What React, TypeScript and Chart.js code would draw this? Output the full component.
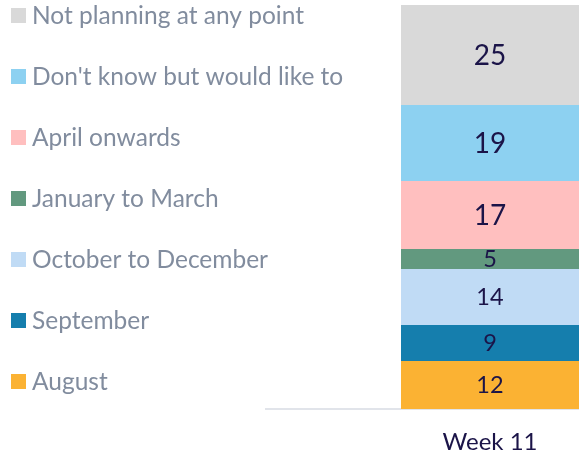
import React, { useEffect, useRef } from "react";
import { Chart, registerables } from "chart.js";

Chart.register(...registerables);

const categories = ["Week 11"];
const seriesNames = [
  "August",
  "September",
  "October to December",
  "January to March",
  "April onwards",
  "Don't know but would like to",
  "Not planning at any point",
];
const seriesValues = [12, 9, 14, 5, 17, 19, 25];
const seriesColors = [
  "#fbb233",
  "#157ead",
  "#c0dbf5",
  "#62997f",
  "#ffbfbf",
  "#8dd1f1",
  "#d9d9d9",
];
const yMax = 101;

const FONT = "Lato, 'Open Sans', sans-serif";
const LABEL_COLOR = "#1b1448";
const LEGEND_COLOR = "#818c9e";

const sideLegend = {
  id: "sideLegend",
  afterDraw(chart: any) {
    const ctx = chart.ctx;
    ctx.save();
    ctx.font = `24.5px ${FONT}`;
    ctx.textBaseline = "alphabetic";
    ctx.textAlign = "left";
    const n = seriesNames.length;
    for (let i = 0; i < n; i++) {
      const idx = n - 1 - i;
      const cy = 15.5 + i * 61;
      ctx.fillStyle = seriesColors[idx];
      ctx.fillRect(11, cy - 7.5, 15, 15);
      ctx.fillStyle = LEGEND_COLOR;
      ctx.fillText(seriesNames[idx], 32, cy + 8.5);
    }
    ctx.restore();
  },
};

const valueLabels = {
  id: "valueLabels",
  afterDatasetsDraw(chart: any) {
    const ctx = chart.ctx;
    ctx.save();
    ctx.fillStyle = LABEL_COLOR;
    ctx.textAlign = "center";
    ctx.textBaseline = "alphabetic";
    chart.data.datasets.forEach((ds: any, di: number) => {
      const meta = chart.getDatasetMeta(di);
      meta.data.forEach((el: any, i: number) => {
        const v = ds.data[i];
        const big = v >= 15;
        const size = big ? 28 : 23.5;
        ctx.font = `${size}px ${FONT}`;
        const cy = (el.y + el.base) / 2;
        ctx.fillText(String(v), el.x, cy + size * 0.36);
      });
    });
    ctx.restore();
  },
};

export default function App() {
  const ref = useRef<HTMLCanvasElement | null>(null);
  useEffect(() => {
    if (!ref.current) return;
    const chart = new Chart(ref.current, {
      type: "bar",
      data: {
        labels: categories,
        datasets: seriesNames.map((name, i) => ({
          label: name,
          data: [seriesValues[i]],
          backgroundColor: seriesColors[i],
          borderWidth: 0,
          stack: "s",
          barPercentage: 1,
          categoryPercentage: 178 / 448,
        })),
      },
      options: {
        animation: false,
        responsive: false,
        devicePixelRatio: 1,
        layout: { padding: { left: 266, top: 5, right: 0, bottom: 1 } },
        plugins: {
          legend: { display: false },
          tooltip: { enabled: false },
        },
        scales: {
          x: {
            stacked: true,
            grid: { display: false, drawTicks: false },
            border: { display: true, color: "#e1e4ea", width: 2 },
            ticks: {
              color: LABEL_COLOR,
              font: { family: FONT, size: 24, lineHeight: 1 },
              padding: 21,
            },
            afterFit: (scale: any) => {
              scale.height = 46;
            },
          },
          y: {
            stacked: true,
            display: false,
            min: 0,
            max: yMax,
          },
        },
      },
      plugins: [sideLegend, valueLabels],
    });
    return () => chart.destroy();
  }, []);
  return (
    <div
      style={{
        position: "absolute",
        left: 0,
        top: 0,
        width: 579,
        height: 456,
        overflow: "hidden",
        background: "#ffffff",
      }}
    >
      <canvas ref={ref} width={714} height={456} style={{ width: 714, height: 456, display: "block" }} />
    </div>
  );
}
